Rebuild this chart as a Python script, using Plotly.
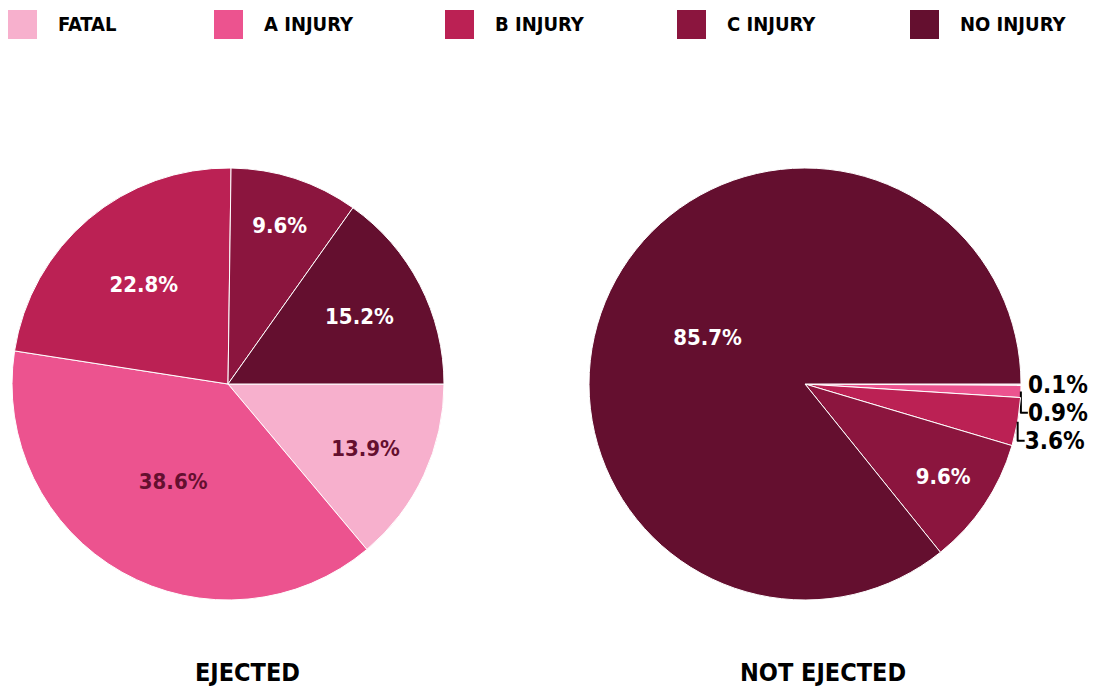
import plotly.graph_objects as go

categories = ["FATAL", "A INJURY", "B INJURY", "C INJURY", "NO INJURY"]
ejected = [13.9, 38.6, 22.8, 9.6, 15.2]
not_ejected = [0.1, 0.9, 3.6, 9.6, 85.7]
colors = ["#F7B0CD", "#EC538F", "#BB2154", "#8B153E", "#640F2F"]
titles = ["EJECTED", "NOT EJECTED"]

FONT = "DejaVu Sans Condensed, Liberation Sans Narrow, Arial Narrow, sans-serif"
W, H = 1103, 689
OFF = 8  # page body margin
T, B = 168 - OFF, H - (600 - OFF)
PH = H - T - B


def px(x):
    return (x - OFF) / W


def py(y):
    return (H - B - (y - OFF)) / PH


fig = go.Figure()

fig.add_trace(go.Pie(
    labels=categories, values=ejected, sort=False, direction="clockwise", rotation=90,
    marker=dict(colors=colors, line=dict(color="white", width=1)),
    texttemplate="%{value:.1f}%", textinfo="text",
    textposition="inside", insidetextorientation="horizontal",
    insidetextfont=dict(family=FONT, size=22, weight="bold",
                        color=["#640F2F", "#640F2F", "white", "white", "white"]),
    domain=dict(x=[px(12), px(444)], y=[0, 1]),
    hoverinfo="label+percent", showlegend=False, automargin=False,
))

fig.add_trace(go.Pie(
    labels=categories, values=not_ejected, sort=False, direction="clockwise", rotation=90,
    marker=dict(colors=colors, line=dict(color="white", width=1)),
    texttemplate="%{value:.1f}%", textinfo="text",
    textposition=["outside", "outside", "outside", "inside", "inside"],
    insidetextorientation="horizontal",
    insidetextfont=dict(family=FONT, size=22, weight="bold", color="white"),
    outsidetextfont=dict(family=FONT, size=24, weight="bold", color="black"),
    domain=dict(x=[px(589), px(1021)], y=[0, 1]),
    hoverinfo="label+percent", showlegend=False, automargin=False,
))

# Legend (square swatches + labels)
legend_sq_x = [8, 214, 445, 677, 910]
for cat, col, lx in zip(categories, colors, legend_sq_x):
    fig.add_shape(type="rect", xref="paper", yref="paper",
                  x0=px(lx), x1=px(lx + 29), y0=py(39), y1=py(10),
                  fillcolor=col, line=dict(width=0))
    fig.add_annotation(text=cat, x=px(lx + 48), y=py(24), xref="paper", yref="paper",
                       showarrow=False, xanchor="left", yanchor="middle",
                       font=dict(family=FONT, size=20, weight="bold", color="black"))

# Titles under pies
title_cx = [247, 823]
for t, cx in zip(titles, title_cx):
    fig.add_annotation(text=t, x=px(cx), y=py(672), xref="paper", yref="paper",
                       showarrow=False, xanchor="center", yanchor="middle",
                       font=dict(family=FONT, size=25, weight="bold", color="black"))

fig.update_layout(
    width=W, height=H,
    margin=dict(l=0, r=0, t=T, b=B),
    paper_bgcolor="white", plot_bgcolor="white",
    font=dict(family=FONT, size=20, color="black"),
    showlegend=False,
)

fig.write_html("out.html")
